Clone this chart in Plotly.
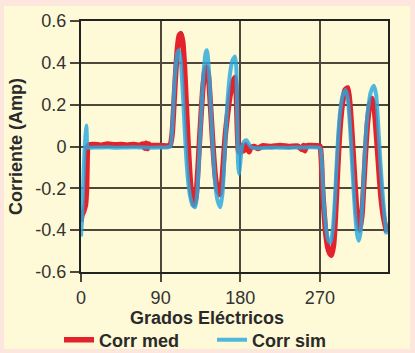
import plotly.graph_objects as go

# ---- data ----
med_x = [0, 1, 3, 5, 6.3, 7, 7.6, 9, 15, 22, 30, 38, 45, 52, 60, 66, 70, 72, 73.5, 75, 76.5, 78, 85, 92, 98,
         101, 103, 105, 107, 109, 111, 113, 115, 117, 119, 121, 123, 125, 127.5, 130, 132, 134, 136, 138, 140,
         142, 144, 146, 148, 150, 152, 154.5, 157, 159, 161, 163, 165, 168, 171, 174, 175.5, 177, 178, 180,
         182, 184, 186, 188, 190, 192, 196, 200, 205, 215, 225, 235, 245, 250, 251.5, 253, 255, 260, 266, 270,
         271.5, 273, 275, 277, 280, 283, 285.5, 288, 290, 292, 294, 296, 298.5, 301.5, 304, 306, 308, 310, 312,
         315, 317.5, 320, 322, 324, 326.5, 329, 331.5, 334, 336.5, 339, 342, 345.5]
med_y = [-0.36, -0.33, -0.31, -0.28, -0.2, -0.05, 0.0, 0.008, 0.01, 0.006, 0.012, 0.008, 0.01, 0.006, 0.01,
         0.005, 0.012, -0.008, 0.015, -0.01, 0.012, 0.006, 0.005, 0.004, 0.003,
         0.01, 0.06, 0.2, 0.35, 0.47, 0.53, 0.54, 0.5, 0.38, 0.2, 0.02, -0.13, -0.23, -0.28, -0.24, -0.12, 0.03,
         0.17, 0.29, 0.36, 0.38, 0.34, 0.22, 0.08, -0.05, -0.15, -0.21, -0.23, -0.18, -0.07, 0.05, 0.13, 0.23,
         0.3, 0.33, 0.25, 0.05, -0.02, -0.03, 0.005, -0.02, 0.01, -0.01, -0.025, -0.005, 0.0, -0.01, 0.003, 0.0,
         0.005, 0.0, 0.002, -0.015, 0.005, -0.02, 0.004, 0.005, 0.004, 0.002,
         -0.05, -0.2, -0.33, -0.43, -0.5, -0.52, -0.47, -0.3, -0.12, 0.04, 0.15, 0.22, 0.27, 0.28, 0.2, 0.08,
         -0.06, -0.2, -0.32, -0.4, -0.33, -0.15, 0.0, 0.12, 0.2, 0.23, 0.18, 0.05, -0.1, -0.24, -0.34, -0.41]

sim_x = [0, 1, 2, 3, 4, 5, 6, 6.6, 7.2, 9, 20, 30, 40, 50, 60, 70, 80, 90, 98,
         101, 103, 105, 107, 109, 110.7, 112.5, 114.5, 116.5, 118.5, 120.5, 123, 126, 129, 131, 133, 135, 137,
         139, 141, 142.5, 144, 146, 148, 150, 152, 154.5, 157.5, 160, 162, 164, 166, 168.5, 171, 174, 175.5,
         176.5, 177.5, 178.5, 180, 182, 184.5, 187, 190, 193, 200, 210, 220, 230, 240, 250, 260, 268,
         270.5, 272.5, 274.5, 277, 279.5, 282, 284.5, 287, 289, 291, 293, 295.5, 299, 301.5, 304, 306, 308, 310,
         312, 314, 316, 318, 320, 322, 324.5, 327.5, 331, 333.5, 336, 338.5, 341, 343.5, 345.5]
sim_y = [-0.43, -0.36, -0.25, -0.12, -0.02, 0.05, 0.1, 0.05, -0.005, -0.006, -0.005, -0.004, -0.006, -0.005,
         -0.004, -0.005, -0.006, -0.005, -0.004,
         0.0, 0.08, 0.25, 0.38, 0.45, 0.46, 0.42, 0.3, 0.14, -0.02, -0.14, -0.23, -0.28, -0.29, -0.24, -0.1,
         0.08, 0.25, 0.38, 0.45, 0.46, 0.4, 0.25, 0.07, -0.08, -0.19, -0.26, -0.29, -0.22, -0.07, 0.1, 0.24,
         0.35, 0.41, 0.43, 0.38, 0.15, -0.08, -0.13, -0.08, 0.0, 0.025, 0.03, 0.01, -0.005, -0.008, -0.006,
         -0.005, -0.006, -0.005, -0.005, -0.004, -0.005,
         -0.01, -0.1, -0.27, -0.39, -0.45, -0.46, -0.4, -0.25, -0.08, 0.07, 0.17, 0.24, 0.27, 0.23, 0.1, -0.05,
         -0.2, -0.33, -0.42, -0.45, -0.41, -0.27, -0.1, 0.06, 0.18, 0.26, 0.29, 0.25, 0.1, -0.08, -0.23, -0.35,
         -0.42]

x_ticks = [0, 90, 180, 270]
y_ticks = [-0.6, -0.4, -0.2, 0, 0.2, 0.4, 0.6]
y_labels = ["-0.6", "-0.4", "-0.2", "0", "0.2", "0.4", "0.6"]
x_title = "Grados Eléctricos"
y_title = "Corriente (Amp)"

RED = "#e4222b"
BLUE = "#29a9e0"
GRID = "#4e473a"
FRAME = "#222222"
FONT = "Liberation Sans, Arial, sans-serif"

fig = go.Figure()
fig.add_trace(go.Scatter(x=med_x, y=med_y, mode="lines", name="Corr med", showlegend=True,
                         line=dict(color=RED, width=5.5, shape="spline", smoothing=0.6),
                         legend="legend"))
fig.add_trace(go.Scatter(x=sim_x, y=sim_y, mode="lines", name="Corr sim", showlegend=True,
                         line=dict(color=BLUE, width=4, shape="spline", smoothing=0.6),
                         opacity=0.82, legend="legend2"))

W, H = 415, 353
L, R, T, B = 81, 27, 21, 81
pw, ph = W - L - R, H - T - B

def px_x(p):
    return (p - L) / pw

def px_y(p):
    return (H - B - p) / ph

fig.add_shape(type="rect", xref="paper", yref="paper", layer="below",
              x0=px_x(4), x1=px_x(410), y0=px_y(349), y1=px_y(6),
              fillcolor="#fef9d6", line=dict(width=0))

fig.add_annotation(text=x_title, xref="paper", yref="paper", x=px_x(207), y=px_y(318),
                   xanchor="center", yanchor="middle", showarrow=False,
                   font=dict(size=18, weight="bold", color="#2a2a2a", family=FONT))

leg_font = dict(size=18, weight="bold", color="#2a2a2a")
fig.update_layout(
    width=W, height=H,
    margin=dict(l=L, r=R, t=T, b=B, autoexpand=False),
    paper_bgcolor="#fce6dd",
    plot_bgcolor="#fef9d6",
    showlegend=True,
    font=dict(family=FONT, color="#2a2a2a", size=18),
    xaxis=dict(range=[0, 347], tickvals=x_ticks, showgrid=True, gridcolor=GRID, gridwidth=1.5,
               ticks="outside", ticklen=8, tickwidth=1.5, tickcolor=GRID, automargin=False,
               showline=True, linecolor=FRAME, linewidth=2, mirror=True, zeroline=False,
               tickfont=dict(size=18, color="#333333")),
    yaxis=dict(range=[-0.6, 0.6], tickvals=y_ticks, ticktext=y_labels, showgrid=True, gridcolor=GRID,
               gridwidth=1.5, ticks="outside", ticklen=9, tickwidth=1.5, tickcolor=GRID, automargin=False,
               showline=True, linecolor=FRAME, linewidth=2, mirror=True, zeroline=False,
               tickfont=dict(size=18, color="#333333"),
               title=dict(text=y_title, font=dict(size=18, weight="bold", color="#2a2a2a"),
                          standoff=8)),
    yaxis2=dict(range=[-0.6, 0.6], tickvals=y_ticks[1:], overlaying="y", side="right", showgrid=False,
                ticks="outside", ticklen=17, tickwidth=1.5, tickcolor=GRID, showticklabels=False,
                zeroline=False, showline=False, automargin=False),
    legend=dict(orientation="h", xref="container", yref="container", x=59 / W, xanchor="left",
                y=(H - 340) / H, yanchor="middle", bgcolor="rgba(0,0,0,0)", font=leg_font),
    legend2=dict(orientation="h", xref="container", yref="container", x=212 / W, xanchor="left",
                 y=(H - 340) / H, yanchor="middle", bgcolor="rgba(0,0,0,0)", font=leg_font),
)

fig.write_html("out.html", config={"displayModeBar": False},
               post_script="document.body.style.margin='0';document.body.style.background='#fce6dd';")
